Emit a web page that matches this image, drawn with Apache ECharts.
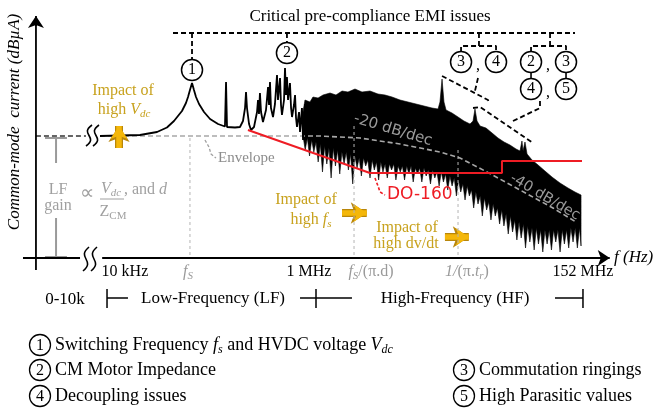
<!DOCTYPE html>
<html>
<head>
<meta charset="utf-8">
<script src="https://cdn.jsdelivr.net/npm/echarts@6/dist/echarts.min.js"></script>
<style>
  html, body { margin: 0; padding: 0; background: #fff; }
  #chart { width: 656px; height: 409px; }
</style>
</head>
<body>
<div id="chart"></div>
<script>
// Schematic CM-current spectrum. x = log10(frequency) (not to scale beyond 1 MHz),
// y = relative level in dBuA (arbitrary units).

// Low-frequency part: fs resonance and the CM motor-impedance resonances
const lfCurve = [
  [4.000, 61], [4.370, 61.5], [4.528, 63], [4.620, 65.25], [4.685, 68.5], [4.759, 73.5],
  [4.796, 77.5], [4.815, 80.5], [4.833, 84], [4.852, 87.5], [4.870, 84], [4.889, 80.5],
  [4.917, 77], [4.963, 73], [5.019, 69.5], [5.093, 67], [5.157, 65.75], [5.167, 88],
  [5.176, 65.5], [5.250, 65.25], [5.296, 65.5], [5.324, 68.5], [5.343, 75], [5.352, 83],
  [5.361, 75], [5.380, 67], [5.398, 64], [5.426, 65.5], [5.454, 73], [5.463, 79],
  [5.472, 72], [5.481, 82.5], [5.491, 73], [5.509, 68], [5.537, 74], [5.556, 85.5],
  [5.565, 76.5], [5.574, 88], [5.583, 75], [5.602, 70.5], [5.620, 77], [5.639, 91.5],
  [5.648, 79], [5.667, 90], [5.676, 76.5], [5.685, 71.5], [5.704, 79], [5.713, 95],
  [5.722, 81.5], [5.731, 90.5], [5.741, 79], [5.759, 87.5], [5.769, 75], [5.778, 70.5],
  [5.796, 76.5], [5.806, 81.5], [5.815, 70], [5.824, 65.5], [5.843, 73], [5.852, 63],
  [5.870, 75], [5.880, 59], [5.898, 77]
];

// High-frequency band: upper edge of the spectrum
const hfTop = [
  [5.880, 73], [5.898, 79], [5.944, 78], [5.972, 80.5], [6.019, 80], [6.065, 81.5],
  [6.130, 82.5], [6.185, 81.5], [6.241, 83.5], [6.296, 83], [6.361, 84.5], [6.426, 83],
  [6.500, 83.5], [6.574, 82], [6.639, 81.5], [6.704, 80.5], [6.778, 79], [6.852, 78],
  [6.926, 77], [7.000, 76], [7.074, 75], [7.130, 74.5], [7.148, 78], [7.167, 89.5],
  [7.185, 78], [7.204, 74], [7.259, 72.5], [7.315, 70.5], [7.370, 68.5], [7.426, 67],
  [7.454, 68.5], [7.472, 74.5], [7.491, 68.5], [7.519, 66], [7.574, 65], [7.630, 62.5],
  [7.685, 60], [7.741, 58], [7.796, 56.5], [7.852, 54.5], [7.889, 53.5], [7.907, 58.5],
  [7.917, 53.5], [7.935, 58], [7.954, 52], [8.000, 49], [8.056, 46.5], [8.120, 43.5],
  [8.185, 40.5], [8.259, 37.5], [8.333, 35], [8.398, 33], [8.454, 31.5]
];

// High-frequency band: lower edge (floor with the downward spikes)
const hfBottom = [
  [5.880, 61], [5.900, 54], [5.920, 60], [5.940, 51], [5.960, 59], [5.980, 53],
  [6.000, 58], [6.020, 48], [6.040, 57], [6.060, 43], [6.080, 56], [6.100, 47],
  [6.120, 55], [6.140, 40], [6.160, 55], [6.180, 46], [6.200, 54], [6.220, 42],
  [6.240, 53], [6.260, 47], [6.280, 53], [6.300, 44], [6.320, 52], [6.340, 37],
  [6.360, 51], [6.380, 45], [6.400, 50], [6.420, 41], [6.440, 50], [6.460, 46],
  [6.480, 49], [6.500, 40], [6.520, 49], [6.540, 44], [6.560, 48], [6.580, 39],
  [6.600, 48], [6.620, 43], [6.640, 47], [6.660, 40], [6.680, 47], [6.700, 44],
  [6.720, 47], [6.740, 39], [6.760, 46], [6.780, 43], [6.800, 46], [6.820, 39],
  [6.840, 46], [6.860, 42], [6.880, 46], [6.900, 38], [6.920, 45], [6.940, 42],
  [6.960, 45], [6.980, 38], [7.000, 45], [7.020, 41], [7.040, 44], [7.060, 37],
  [7.080, 44], [7.100, 40], [7.120, 43], [7.140, 36], [7.160, 43], [7.180, 38],
  [7.200, 42], [7.220, 34], [7.240, 41], [7.260, 36], [7.280, 40], [7.300, 31],
  [7.320, 39], [7.340, 33], [7.360, 37], [7.380, 29], [7.400, 36], [7.420, 31],
  [7.440, 34], [7.460, 25], [7.480, 33], [7.500, 27], [7.520, 31], [7.540, 21],
  [7.560, 30], [7.580, 24], [7.600, 28], [7.620, 19], [7.640, 27], [7.660, 21],
  [7.680, 25], [7.700, 17], [7.720, 24], [7.740, 16], [7.760, 22], [7.780, 12],
  [7.800, 21], [7.820, 13], [7.840, 19], [7.860, 9], [7.880, 18], [7.900, 10],
  [7.920, 17], [7.940, 5], [7.960, 16], [7.980, 8], [8.000, 15], [8.020, 4],
  [8.040, 15], [8.060, 7], [8.080, 14], [8.100, 3], [8.120, 14], [8.140, 7],
  [8.160, 14], [8.180, 4], [8.200, 14], [8.220, 8], [8.240, 14], [8.260, 3],
  [8.280, 14], [8.300, 7], [8.320, 14], [8.340, 5], [8.360, 15], [8.380, 8],
  [8.400, 15], [8.420, 5], [8.440, 15], [8.454, 6]
];

// Spectral envelope: flat LF gain, then -20 dB/dec and -40 dB/dec slopes
const envelopeLow = [[3.407, 61], [3.870, 61]];
const envelope = [
  [4.000, 61], [6.037, 61], [6.407, 60], [6.778, 57], [7.148, 53], [7.333, 50],
  [7.583, 43], [7.889, 34], [8.194, 25], [8.407, 18]
];
const envelopeLeader = [[4.972, 59], [5.009, 55.5], [5.028, 52], [5.074, 50]];

// DO-160 limit
const do160 = [[5.370, 64], [6.500, 42.5], [7.722, 42.5], [7.722, 48.5], [8.463, 48.5]];
const do160Leader = [[6.546, 40], [6.574, 36], [6.593, 33], [6.639, 31.5]];

// Characteristic frequencies: fs, fs/(pi.d), 1/(pi.tr)
const guideFs = [[4.833, 60], [4.833, 0]];
const guideFsd = [[6.352, 66], [6.352, 0]];
const guideTr = [[7.315, 54], [7.315, 0]];

// Axis tick labels
const tickPos = [4.231, 4.815, 5.935, 6.509, 7.398, 8.472];
const tickText = [
  '{n|10 kHz}', '{gi|f}{gsub|S}', '{n|1 MHz}', '{gi|f}{gsub|S}{g|/(π.d)}',
  '{gi|1/}{g|(π.}{gi|t}{gsub|r}{g|)}', '{n|152 MHz}'
];

// Numbered issue markers
const issueMarks = [
  [4.852, 94, '1'], [5.731, 102.5, '2'],
  [7.343, 98, '3'], [7.667, 98, '4'],
  [7.991, 98, '2'], [8.315, 98, '3'], [7.991, 84.5, '4'], [8.315, 84.5, '5']
];
const issueTree = [
  [[4.676, 112.5], [8.398, 112.5]],
  [[4.852, 112.5], [4.852, 99]],
  [[5.731, 112.5], [5.731, 107.5]],
  [[7.509, 112.5], [7.509, 106]],
  [[7.343, 103], [7.343, 106], [7.667, 106], [7.667, 103]],
  [[8.167, 112.5], [8.167, 106]],
  [[7.991, 103], [7.991, 106], [8.315, 106], [8.315, 103]],
  [[7.167, 91], [7.593, 79], [7.602, 77]],
  [[7.500, 90], [7.472, 83.5]],
  [[8.074, 78.5], [8.074, 75], [7.806, 68]],
  [[7.454, 75], [7.519, 75.5], [8.009, 57.5]]
];
const issueLinks = [
  [[7.991, 93], [7.991, 89.5]],
  [[8.315, 93], [8.315, 89.5]]
];

// LF gain dimension bar
const lfGainBar = [
  [[3.491, 60], [3.694, 60]],
  [[3.593, 60], [3.593, 47.5]],
  [[3.593, 20], [3.593, 0.5]],
  [[3.491, 0.5], [3.694, 0.5]]
];

// Frequency-range brackets below the axis
const rangeBars = [
  [[4.065, -15.5], [4.065, -25]], [[4.065, -20], [4.259, -20]],
  [[5.852, -20], [6.333, -20]], [[6.000, -15.5], [6.000, -25]],
  [[8.213, -20], [8.472, -20]], [[8.472, -15.5], [8.472, -25]]
];

// Axes
const yAxisLine = [[3.407, -6], [3.407, 118]];
const xAxisLeft = [[3.287, 0], [3.815, 0]];
const xAxisMain = [[4.020, 0], [8.690, 0]];
const axisArrows = [
  [[3.407, 116], [3.407, 121]],
  [[8.680, 0], [8.720, 0]]
];

// "Impact of ..." arrows
const impactArrows = [
  [[4.176, 55], [4.176, 66]],
  [[6.241, 22.5], [6.470, 22.5]],
  [[7.194, 10.5], [7.415, 10.5]]
];

const SERIF = '"Liberation Serif", "Times New Roman", serif';
const SANS = '"DejaVu Sans", Verdana, sans-serif';
const GOLD = '#C8A21E';
const RED = '#ee1c24';

function lineSeries(data, color, width, dash, z) {
  return {
    type: 'line', data: data, symbol: 'none', clip: false, silent: true,
    lineStyle: { color: color, width: width, type: dash || 'solid', cap: 'butt' },
    z: z || 5
  };
}

function arrowSeries(segments, color, width, size, z) {
  return {
    type: 'line', data: [], symbol: 'none', silent: true, z: z || 8,
    markLine: {
      silent: true, animation: false, symbol: ['none', 'arrow'], symbolSize: size,
      label: { show: false },
      lineStyle: { color: color, width: width, type: 'solid' },
      emphasis: { disabled: true },
      data: segments.map(s => [{ coord: s[0] }, { coord: s[1] }])
    }
  };
}

function txt(x, y, text, o) {
  o = o || {};
  return {
    type: 'text', x: x, y: y, rotation: o.rotation || 0, z: 100,
    style: {
      text: text,
      fill: o.color || '#000',
      font: (o.italic ? 'italic ' : '') + (o.size || 16) + 'px ' + (o.family || SERIF),
      align: o.align || 'center', verticalAlign: o.valign || 'middle',
      textAlign: o.align || 'center', textVerticalAlign: o.valign || 'middle',
      rich: o.rich
    }
  };
}

function richSet(color, size) {
  return {
    r: { fill: color, color: color, fontFamily: SERIF, fontSize: size, lineHeight: size + 4, verticalAlign: 'middle' },
    i: { fill: color, color: color, fontFamily: SERIF, fontSize: size, fontStyle: 'italic', lineHeight: size + 4, verticalAlign: 'middle' },
    s: { fill: color, color: color, fontFamily: SERIF, fontSize: Math.round(size * 0.68), fontStyle: 'italic', verticalAlign: 'bottom' },
    u: { fill: color, color: color, fontFamily: SERIF, fontSize: Math.round(size * 0.68), verticalAlign: 'bottom' }
  };
}

function squiggle(cx, top, bottom, color) {
  const h = bottom - top;
  return {
    type: 'bezierCurve', z: 100,
    shape: { x1: cx + 3, y1: top, x2: cx - 3, y2: bottom, cpx1: cx - 10, cpy1: top + h * 0.45, cpx2: cx + 10, cpy2: top + h * 0.55 },
    style: { stroke: color, lineWidth: 1.6, fill: null }
  };
}

function legendItem(cx, cy, n, text, rich) {
  return [
    { type: 'circle', z: 100, shape: { cx: cx, cy: cy, r: 10.5 }, style: { fill: '#fff', stroke: '#000', lineWidth: 1.3 } },
    txt(cx, cy + 0.5, n, { size: 16 }),
    txt(cx + 15, cy, text, { align: 'left', size: 18, rich: rich })
  ];
}

const chart = echarts.init(document.getElementById('chart'), null, { renderer: 'canvas' });

const series = [];
// spectrum band
series.push({
  type: 'custom', coordinateSystem: 'cartesian2d', silent: true, z: 2,
  data: [hfTop[0]],
  renderItem: function (params, api) {
    const pts = hfTop.map(p => api.coord(p))
      .concat(hfBottom.slice().reverse().map(p => api.coord(p)));
    return { type: 'polygon', shape: { points: pts }, style: { fill: '#000', stroke: '#000', lineWidth: 0.6 } };
  }
});
series.push(lineSeries(envelope, '#a8a8a8', 1.6, [5, 3], 3));
series.push(lineSeries(envelopeLow, '#333', 1.6, [5, 3], 3));
series.push(lineSeries(lfCurve, '#000', 1.8, 'solid', 4));
series.push(lineSeries(envelopeLeader, '#a0a0a0', 1.3, [3, 2], 5));
[guideFs, guideFsd, guideTr].forEach(g => series.push(lineSeries(g, '#b4b4b4', 1, [3, 3], 5)));
series.push(lineSeries(do160, RED, 2, 'solid', 6));
series.push(lineSeries(do160Leader, RED, 1.6, [3, 2], 6));
issueTree.forEach(p => series.push(lineSeries(p, '#000', 1.8, [5, 3], 6)));
issueLinks.forEach(p => series.push(lineSeries(p, '#000', 1.6, 'solid', 6)));
lfGainBar.forEach(p => series.push(lineSeries(p, '#9a9a9a', 2, 'solid', 6)));
rangeBars.forEach(p => series.push(lineSeries(p, '#000', 1.5, 'solid', 6)));
series.push(lineSeries(yAxisLine, '#000', 1.8, 'solid', 7));
series.push(lineSeries(xAxisLeft, '#000', 1.8, 'solid', 7));
series.push(lineSeries(xAxisMain, '#000', 1.8, 'solid', 7));
series.push(arrowSeries(axisArrows, '#000', 1.8, 12, 7));
series.push(arrowSeries(impactArrows, '#B8860B', 8, 16, 8));
series.push(arrowSeries(impactArrows, '#F4B70A', 5.5, 13, 9));
series.push({
  type: 'scatter', data: issueMarks, symbol: 'circle', symbolSize: 21, z: 10, silent: true,
  itemStyle: { color: '#fff', borderColor: '#000', borderWidth: 1.5, opacity: 1 },
  label: {
    show: true, position: 'inside', formatter: p => p.data[2],
    fontFamily: SERIF, fontSize: 16, color: '#000'
  }
});

const tickRich = {
  n: { color: '#000', fontFamily: SERIF, fontSize: 16, lineHeight: 20, verticalAlign: 'middle' },
  g: { color: '#9a9a9a', fontFamily: SERIF, fontSize: 16, lineHeight: 20, verticalAlign: 'middle' },
  gi: { color: '#9a9a9a', fontFamily: SERIF, fontSize: 16, fontStyle: 'italic', lineHeight: 20, verticalAlign: 'middle' },
  gsub: { color: '#9a9a9a', fontFamily: SERIF, fontSize: 11, fontStyle: 'italic', verticalAlign: 'bottom' }
};

const goldRich = richSet(GOLD, 16);
const grayRich = richSet('#a0a0a0', 16);
const legRich = richSet('#000', 18);

const graphic = [
  txt(370, 17, 'Critical pre-compliance EMI issues', { size: 17 }),
  txt(15, 122, 'Common-mode  current (dBµA)', { italic: true, size: 17, rotation: Math.PI / 2 }),
  txt(614, 258, 'f (Hz)', { italic: true, size: 17, align: 'left' }),
  squiggle(86, 247, 271, '#000'), squiggle(94, 247, 271, '#000'),
  squiggle(89, 125, 146, '#000'), squiggle(96, 125, 146, '#000'),
  txt(123, 91, 'Impact of', { color: GOLD, size: 16 }),
  txt(124, 110, '{r|high }{i|V}{s|dc}', { rich: goldRich }),
  txt(306, 200, 'Impact of', { color: GOLD, size: 16 }),
  txt(311, 220, '{r|high }{i|f}{s|s}', { rich: goldRich }),
  txt(407, 228, 'Impact of', { color: GOLD, size: 16 }),
  txt(406, 244, 'high dv/dt', { color: GOLD, size: 16 }),
  txt(218, 158, 'Envelope', { color: '#8c8c8c', size: 15, align: 'left' }),
  txt(58, 190, 'LF', { color: '#a0a0a0', size: 16 }),
  txt(58, 206, 'gain', { color: '#a0a0a0', size: 16 }),
  txt(87, 194, '∝', { color: '#a0a0a0', size: 20 }),
  txt(111, 189, '{i|V}{s|dc}', { rich: grayRich }),
  { type: 'line', z: 100, shape: { x1: 100, y1: 199, x2: 124, y2: 199 }, style: { stroke: '#a0a0a0', lineWidth: 1 } },
  txt(113, 212, '{r|Z}{u|CM}', { rich: grayRich }),
  txt(124, 190, '{r|, and }{i|d}', { align: 'left', rich: grayRich }),
  txt(393, 130, '-20 dB/dec', { color: '#9a9a9a', size: 15, family: SANS, rotation: -16.7 * Math.PI / 180 }),
  txt(545, 197, '-40 dB/dec', { color: '#9a9a9a', size: 14.5, family: SANS, rotation: -30.4 * Math.PI / 180 }),
  txt(387, 195, 'DO-160', { color: RED, size: 17, family: SANS, align: 'left' }),
  txt(478, 66, ',', { size: 16 }),
  txt(548, 66, ',', { size: 16 }),
  txt(548, 93, ',', { size: 16 }),
  txt(65, 300, '0-10k', { size: 17 }),
  txt(213, 299, 'Low-Frequency (LF)', { size: 17 }),
  txt(455, 299, 'High-Frequency (HF)', { size: 17 })
]
  .concat(legendItem(40, 345, '1', '{r|Switching Frequency }{i|f}{s|s}{r| and HVDC voltage }{i|V}{s|dc}', legRich))
  .concat(legendItem(40, 370, '2', 'CM Motor Impedance'))
  .concat(legendItem(40, 396, '4', 'Decoupling issues'))
  .concat(legendItem(464, 370, '3', 'Commutation ringings'))
  .concat(legendItem(464, 396, '5', 'High Parasitic values'));

chart.setOption({
  animation: false,
  backgroundColor: '#fff',
  grid: { left: 22.24, right: 41.92, top: 10, bottom: 151, containLabel: false },
  xAxis: {
    type: 'value', min: 3.28, max: 8.76,
    axisLine: { show: false }, axisTick: { show: false }, splitLine: { show: false },
    axisLabel: {
      customValues: tickPos, margin: 4, rich: tickRich,
      formatter: function (val) {
        for (let i = 0; i < tickPos.length; i++) {
          if (Math.abs(tickPos[i] - val) < 1e-6) return tickText[i];
        }
        return '';
      }
    }
  },
  yAxis: { type: 'value', min: 0, max: 124, show: false },
  series: series,
  graphic: { elements: graphic }
});
</script>
</body>
</html>
